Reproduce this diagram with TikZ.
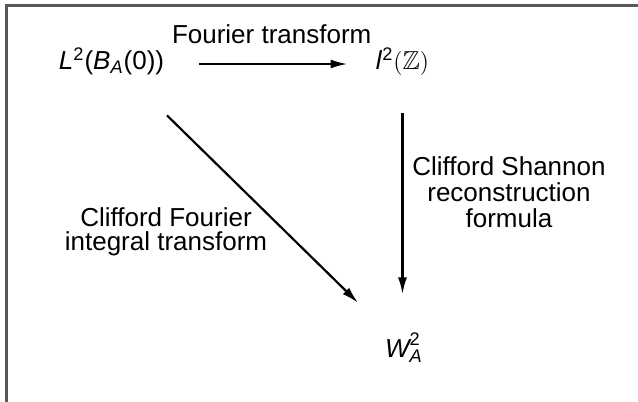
\documentclass[tikz,border=0pt]{standalone}
\usepackage{fontspec}
\setmainfont{Liberation Sans}
\usepackage{amsmath}
\usepackage{amssymb}
\usetikzlibrary{arrows.meta}

\begin{document}
\begin{tikzpicture}[x=0.5pt, y=-0.5pt,
  lbl/.style={inner sep=0pt, font={\fontsize{13}{13}\selectfont}},
  arr/.style={-{Latex[length=8.5pt, width=4.5pt]}, line width=1.1pt}]
\useasboundingbox (0,0) rectangle (638,402);
\draw[black!65, line width=1.1pt] (638,5.5) -- (6.5,5.5) -- (6.5,402);
\node[lbl, anchor=base] (L2) at (111.5,69) {\textit{L}\textsuperscript{2}(\textit{B}\textsubscript{\textit{A}}(0))};
\node[lbl, anchor=base] (lZ) at (402.5,69) {\textit{l}\textsuperscript{2}$(\mathbb{Z})$};
\node[lbl, anchor=base] (W) at (404,357) {$\textit{W}^{\text{2}}_{\textit{A}}$};
\node[lbl, anchor=base] (ft) at (271.7,43) {Fourier transform};
\node[lbl, anchor=north, align=center, font={\fontsize{13}{13}\selectfont}] (csr) at (509,156) {Clifford Shannon\\reconstruction\\formula};
\node[lbl, anchor=north, align=center, font={\fontsize{13}{12}\selectfont}] (cfi) at (166,207) {Clifford Fourier\\integral transform};
\draw[arr, shorten <=17.5pt, shorten >=14pt] ([yshift=2.5pt]L2.base east) -- ([yshift=2.5pt]lZ.base west);
\draw[arr, shorten <=19pt, shorten >=19pt] (lZ.south) -- (lZ.south |- W.north);
\draw[arr, shorten <=29pt, shorten >=21pt] (L2) -- (W);
\end{tikzpicture}
\end{document}
